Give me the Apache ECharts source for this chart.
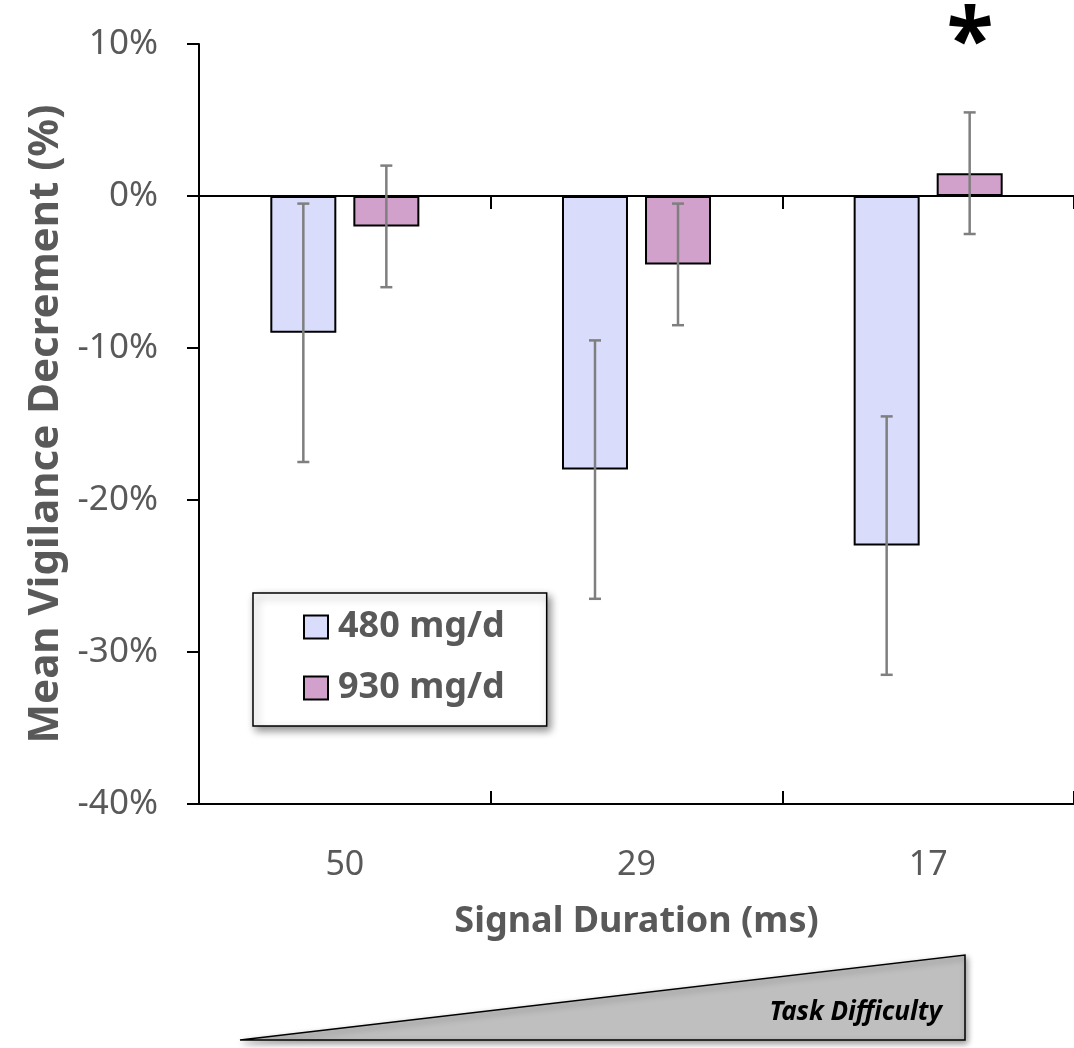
<!DOCTYPE html>
<html>
<head>
<meta charset="utf-8">
<script src="https://cdn.jsdelivr.net/npm/echarts@6/dist/echarts.min.js"></script>
<style>
  html, body { margin: 0; padding: 0; background: #fff; }
  #chart { width: 1074px; height: 1048px; }
</style>
</head>
<body>
<div id="chart"></div>
<script>
// signal duration categories (ms)
const durations = ['50', '29', '17']
// mean vigilance decrement (%) and error (+/-)
const mean480 = [-9, -18, -23]
const err480 = [8.5, 8.5, 8.5]
const mean930 = [-2, -4.5, 1.5]
const err930 = [4, 4, 4]
const yTicks = { min: -40, max: 10, interval: 10 }

const FONT = 'Noto Sans'
const GREY = '#595959'
const BAR_W = 66
const GAP_PX = 17

const chart = echarts.init(document.getElementById('chart'))

// error bars drawn through the axes, shifted to the bar centres
function errorBars (means, errs, side) {
  return {
    type: 'custom',
    z: 5,
    silent: true,
    data: means.map((m, i) => [i, m - errs[i], m + errs[i]]),
    renderItem (params, api) {
      const shift = side * (BAR_W + GAP_PX) / 2
      const lo = api.coord([api.value(0), api.value(1)])
      const hi = api.coord([api.value(0), api.value(2)])
      const x = lo[0] + shift
      const cap = 6
      const style = { stroke: '#7f7f7f', lineWidth: 2.5 }
      return {
        type: 'group',
        children: [
          { type: 'line', shape: { x1: x, y1: lo[1], x2: x, y2: hi[1] }, style },
          { type: 'line', shape: { x1: x - cap, y1: lo[1], x2: x + cap, y2: lo[1] }, style },
          { type: 'line', shape: { x1: x - cap, y1: hi[1], x2: x + cap, y2: hi[1] }, style }
        ]
      }
    }
  }
}

const option = {
  animation: false,
  textStyle: { fontFamily: FONT },
  grid: { left: 199, right: -4, top: 44, bottom: 244 },
  legend: {
    orient: 'vertical',
    left: 253,
    top: 593,
    padding: [16, 42, 20, 50],
    icon: 'rect',
    itemWidth: 24,
    itemHeight: 23,
    itemGap: 25,
    backgroundColor: '#fff',
    borderColor: '#000',
    borderWidth: 1.5,
    borderRadius: 0,
    shadowColor: 'rgba(0,0,0,0.45)',
    shadowBlur: 8,
    shadowOffsetX: 3,
    shadowOffsetY: 4,
    itemStyle: { borderColor: '#000', borderWidth: 2 },
    textStyle: { color: GREY, fontSize: 36, fontWeight: 'bold', fontFamily: FONT, padding: [0, 0, 0, 5] },
    data: ['480 mg/d', '930 mg/d']
  },
  xAxis: [
    {
      type: 'category',
      data: durations,
      position: 'bottom',
      name: 'Signal Duration (ms)',
      nameLocation: 'middle',
      nameGap: 100,
      nameTextStyle: { color: GREY, fontSize: 36, fontWeight: 'bold', fontFamily: FONT },
      axisLine: { onZero: false, lineStyle: { color: '#000', width: 2 } },
      axisTick: { show: true, interval: 0, inside: true, length: 13, lineStyle: { color: '#000', width: 2 } },
      axisLabel: { color: GREY, fontSize: 34, fontFamily: FONT, margin: 44 },
      splitLine: { show: false }
    },
    {
      // category axis drawn along the 0% line
      type: 'category',
      data: durations,
      position: 'top',
      axisLine: { show: true, onZero: true, lineStyle: { color: '#000', width: 2 } },
      axisTick: { show: true, interval: 0, inside: true, length: 13, lineStyle: { color: '#000', width: 2 } },
      axisLabel: { show: false },
      splitLine: { show: false }
    }
  ],
  yAxis: {
    type: 'value',
    min: yTicks.min,
    max: yTicks.max,
    interval: yTicks.interval,
    name: 'Mean Vigilance Decrement (%)',
    nameLocation: 'middle',
    nameGap: 130,
    nameTextStyle: { color: GREY, fontSize: 42, fontWeight: 'bold', fontFamily: FONT },
    axisLine: { show: true, lineStyle: { color: '#000', width: 2 } },
    axisTick: { show: true, length: 12, lineStyle: { color: '#000', width: 2 } },
    axisLabel: { color: GREY, fontSize: 35, fontFamily: FONT, margin: 41, formatter: '{value}%' },
    splitLine: { show: false }
  },
  series: [
    {
      name: '480 mg/d',
      type: 'bar',
      barWidth: BAR_W,
      barGap: (GAP_PX / BAR_W * 100).toFixed(1) + '%',
      itemStyle: { color: '#d9dcfb', borderColor: '#000', borderWidth: 2 },
      data: mean480
    },
    {
      name: '930 mg/d',
      type: 'bar',
      barWidth: BAR_W,
      itemStyle: { color: '#d1a0cb', borderColor: '#000', borderWidth: 2 },
      data: mean930
    },
    errorBars(mean480, err480, -1),
    errorBars(mean930, err930, 1)
  ],
  graphic: [
    {
      type: 'text',
      x: 970,
      y: 45,
      style: { text: '*', font: 'bold 86px "Noto Sans"', fill: '#000', align: 'center', verticalAlign: 'middle' },
      z: 10
    },
    {
      type: 'polygon',
      shape: { points: [[240, 1040], [965, 955], [965, 1040]] },
      style: {
        fill: '#bfbfbf',
        stroke: '#000',
        lineWidth: 1.5,
        shadowColor: 'rgba(0,0,0,0.4)',
        shadowBlur: 6,
        shadowOffsetX: 2,
        shadowOffsetY: 3
      }
    },
    {
      type: 'text',
      x: 942,
      y: 1013,
      style: { text: 'Task Difficulty', font: 'italic bold 26px "Noto Sans"', fill: '#000', align: 'right', verticalAlign: 'middle' },
      z: 10
    }
  ]
}

chart.setOption(option)
</script>
</body>
</html>
